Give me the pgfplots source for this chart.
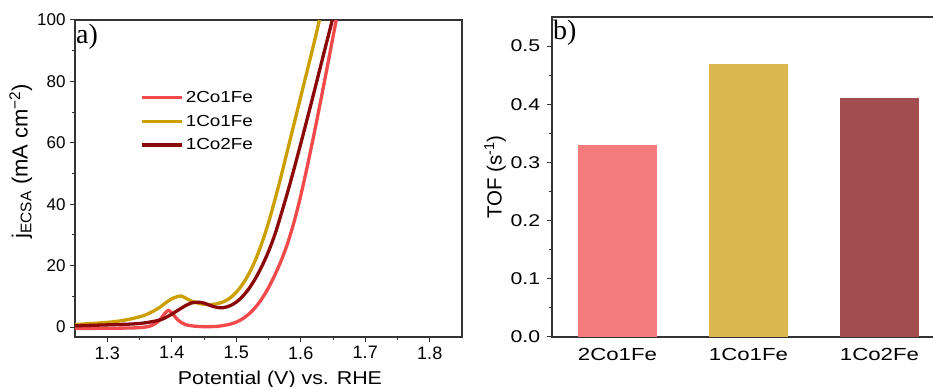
\documentclass[border=0pt]{standalone}
\usepackage{pgfplots}
\pgfplotsset{compat=1.18}
\usepackage{fontspec}
\setmainfont{Liberation Sans}
\newfontfamily\seriffont{Liberation Serif}
\definecolor{cRed}{HTML}{F24A4A}
\definecolor{cGold}{HTML}{CC9F00}
\definecolor{cDark}{HTML}{8B0808}
\definecolor{bRed}{HTML}{F47B7B}
\definecolor{bGold}{HTML}{DAB74F}
\definecolor{bDark}{HTML}{A34E4E}
\definecolor{axgray}{HTML}{333333}
\pgfplotsset{
  common/.style={
    scale only axis,
    axis line style={axgray, line width=1.2pt},
    every tick/.style={axgray, line width=1pt},
    tick align=outside,
    tick pos=left,
    major tick length=5pt,
    minor tick length=3pt,
    /pgf/number format/assume math mode=true,
  }
}
\begin{document}
\begin{tikzpicture}
\path[use as bounding box] (0pt,0pt) rectangle (933pt,387pt);
\begin{axis}[common,
  at={(75pt,50pt)}, anchor=south west,
  width=387pt, height=317pt,
  xmin=1.25, xmax=1.85, ymin=-3.25, ymax=100,
  xtick={1.3,1.4,...,1.8},
  xticklabels={1.3,1.4,1.5,1.6,1.7,1.8},
  ytick={0,20,40,60,80,100},
  minor x tick num=1, minor y tick num=1,
  x tick label style={font=\fontsize{18}{20}\selectfont, yshift=-1pt},
  y tick label style={font=\fontsize{17}{19}\selectfont, xshift=-1pt},
  xlabel={Potential (V) vs. RHE},
  ylabel={j\textsubscript{ECSA} (mA cm\textsuperscript{−2})},
  xlabel style={font=\fontsize{18.6}{20}\selectfont, xscale=1.15, yshift=-5pt, xshift=10pt},
  ylabel style={font=\fontsize{22}{24}\selectfont, at={(ticklabel cs:0.555)}, yshift=-2pt},
  legend style={at={(0.16,0.788)}, anchor=north west, draw=none, fill=none,
    font=\fontsize{16}{18}\selectfont, row sep=7pt, nodes={xscale=1.18}},
  legend cell align=left,
  legend image code/.code={\draw[#1] (0pt,0pt) -- (40pt,0pt);},
]
\addplot[cRed, line width=3.3pt, smooth] coordinates {
(1.25,-0.5) (1.30,-0.4) (1.34,-0.3) (1.36,0.0) (1.37,0.6) (1.38,2.0) (1.39,4.6) (1.395,5.4) (1.40,4.6) (1.41,2.2) (1.42,0.9) (1.43,0.4) (1.45,0.1) (1.47,0.2) (1.48,0.5) (1.49,0.9) (1.50,1.6) (1.51,2.7) (1.52,4.3) (1.53,6.5) (1.54,9.3) (1.55,12.8) (1.56,17.0) (1.57,21.8) (1.58,27.5) (1.59,34.5) (1.60,42.8) (1.61,52.2) (1.62,62.2) (1.63,72.7) (1.64,83.5) (1.65,94.5) (1.655,100)
};
\addlegendentry{2Co1Fe}
\addplot[cGold, line width=3.3pt, smooth] coordinates {
(1.25,0.8) (1.28,1.2) (1.30,1.5) (1.32,2.0) (1.34,2.8) (1.36,4.0) (1.38,6.2) (1.39,7.8) (1.40,9.2) (1.41,10.0) (1.415,10.1) (1.42,9.6) (1.43,8.5) (1.44,7.8) (1.45,7.4) (1.46,7.3) (1.47,7.6) (1.48,8.2) (1.49,9.4) (1.50,11.3) (1.51,14.0) (1.52,17.5) (1.53,22.0) (1.54,27.5) (1.55,34.0) (1.56,41.5) (1.57,49.5) (1.58,58.0) (1.59,66.5) (1.60,75.0) (1.61,83.5) (1.62,92.0) (1.629,100)
};
\addlegendentry{1Co1Fe}
\addplot[cDark, line width=3.3pt, smooth] coordinates {
(1.25,0.4) (1.30,0.7) (1.34,1.0) (1.36,1.4) (1.38,2.2) (1.39,3.0) (1.40,4.2) (1.41,5.5) (1.42,6.8) (1.43,7.8) (1.44,8.1) (1.45,7.8) (1.46,7.0) (1.47,6.4) (1.48,6.3) (1.49,6.9) (1.50,8.1) (1.51,10.0) (1.52,12.6) (1.53,15.9) (1.54,19.9) (1.55,24.6) (1.56,30.2) (1.57,37.0) (1.58,44.2) (1.59,51.8) (1.60,59.7) (1.61,67.8) (1.62,76.0) (1.63,84.3) (1.64,92.6) (1.649,100)
};
\addlegendentry{1Co2Fe}
\node[anchor=north west, font=\seriffont\fontsize{28}{30}\selectfont, inner sep=0pt] at (rel axis cs:0,1) [xshift=1pt, yshift=-4pt] {a)};
\end{axis}
\begin{axis}[common,
  at={(552pt,50pt)}, anchor=south west,
  width=382pt, height=320pt,
  xmin=-0.5, xmax=2.416, ymin=0, ymax=0.55,
  xtick={0,1,2}, xticklabels={2Co1Fe,1Co1Fe,1Co2Fe},
  x tick label style={font=\fontsize{17.5}{19}\selectfont, xscale=1.27, yshift=-3pt},
  y tick label style={font=\fontsize{17}{19}\selectfont, xscale=1.25, xshift=-2pt,
    /pgf/number format/.cd, fixed, fixed zerofill, precision=1},
  major x tick style={draw=none},
  ytick={0,0.1,0.2,0.3,0.4,0.5},
  minor y tick num=1,
  ylabel={TOF (s\textsuperscript{-1})},
  ylabel style={font=\fontsize{20.5}{22}\selectfont, yshift=-3pt},
  ybar, bar width=0.6,
]
\addplot[draw=none, fill=bRed, bar shift=0pt] coordinates {(0,0.33)};
\addplot[draw=none, fill=bGold, bar shift=0pt] coordinates {(1,0.47)};
\addplot[draw=none, fill=bDark, bar shift=0pt] coordinates {(2,0.41)};
\node[anchor=north west, font=\seriffont\fontsize{28}{30}\selectfont, inner sep=0pt] at (rel axis cs:0,1) [xshift=1pt, yshift=-3pt] {b)};
\end{axis}
\end{tikzpicture}
\end{document}
